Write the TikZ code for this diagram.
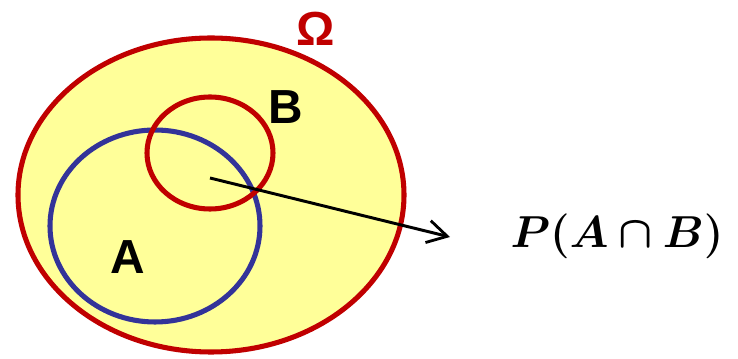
\documentclass[tikz,border=0pt]{standalone}
\usepackage{fontspec}
\setsansfont{Liberation Sans}
\usepackage{amsmath}
\usepackage{bm}
\usetikzlibrary{positioning,arrows.meta,calc}
\definecolor{setred}{HTML}{C00000}
\definecolor{setblue}{HTML}{333399}
\definecolor{spacefill}{HTML}{FFFF99}

\begin{document}
\begin{tikzpicture}[x=0.025cm, y=-0.025cm, >=Stealth,
  setline/.style={line width=3.6pt},
  setlabel/.style={font=\sffamily\bfseries\fontsize{34}{40}\selectfont}]
  \useasboundingbox (0,0) rectangle (738,359);
  % sample space and events
  \draw[setline, setred, fill=spacefill] (211,195) ellipse [x radius=193, y radius=157];
  \draw[setline, setblue] (155,226) ellipse [x radius=105, y radius=96];
  \draw[setline, setred] (210,153) ellipse [x radius=63, y radius=56];
  \node[setlabel, text=setred] (omega) at (316,29) {Ω};
  \node[setlabel] (labB) at (286,107) {B};
  \node[setlabel] (labA) at (128,257) {A};
  % intersection arrow
  \coordinate (inter) at (210,178);
  \coordinate (tip) at (450,237);
  \node[font=\Huge] (prob) at (617,236) {\scalebox{1.28}{$\bm{P(A\cap B)}$}};
  \draw[-{Straight Barb[length=14pt, width=16pt, line width=2pt]}, line width=2.1pt] (inter) -- (tip);
\end{tikzpicture}
\end{document}
